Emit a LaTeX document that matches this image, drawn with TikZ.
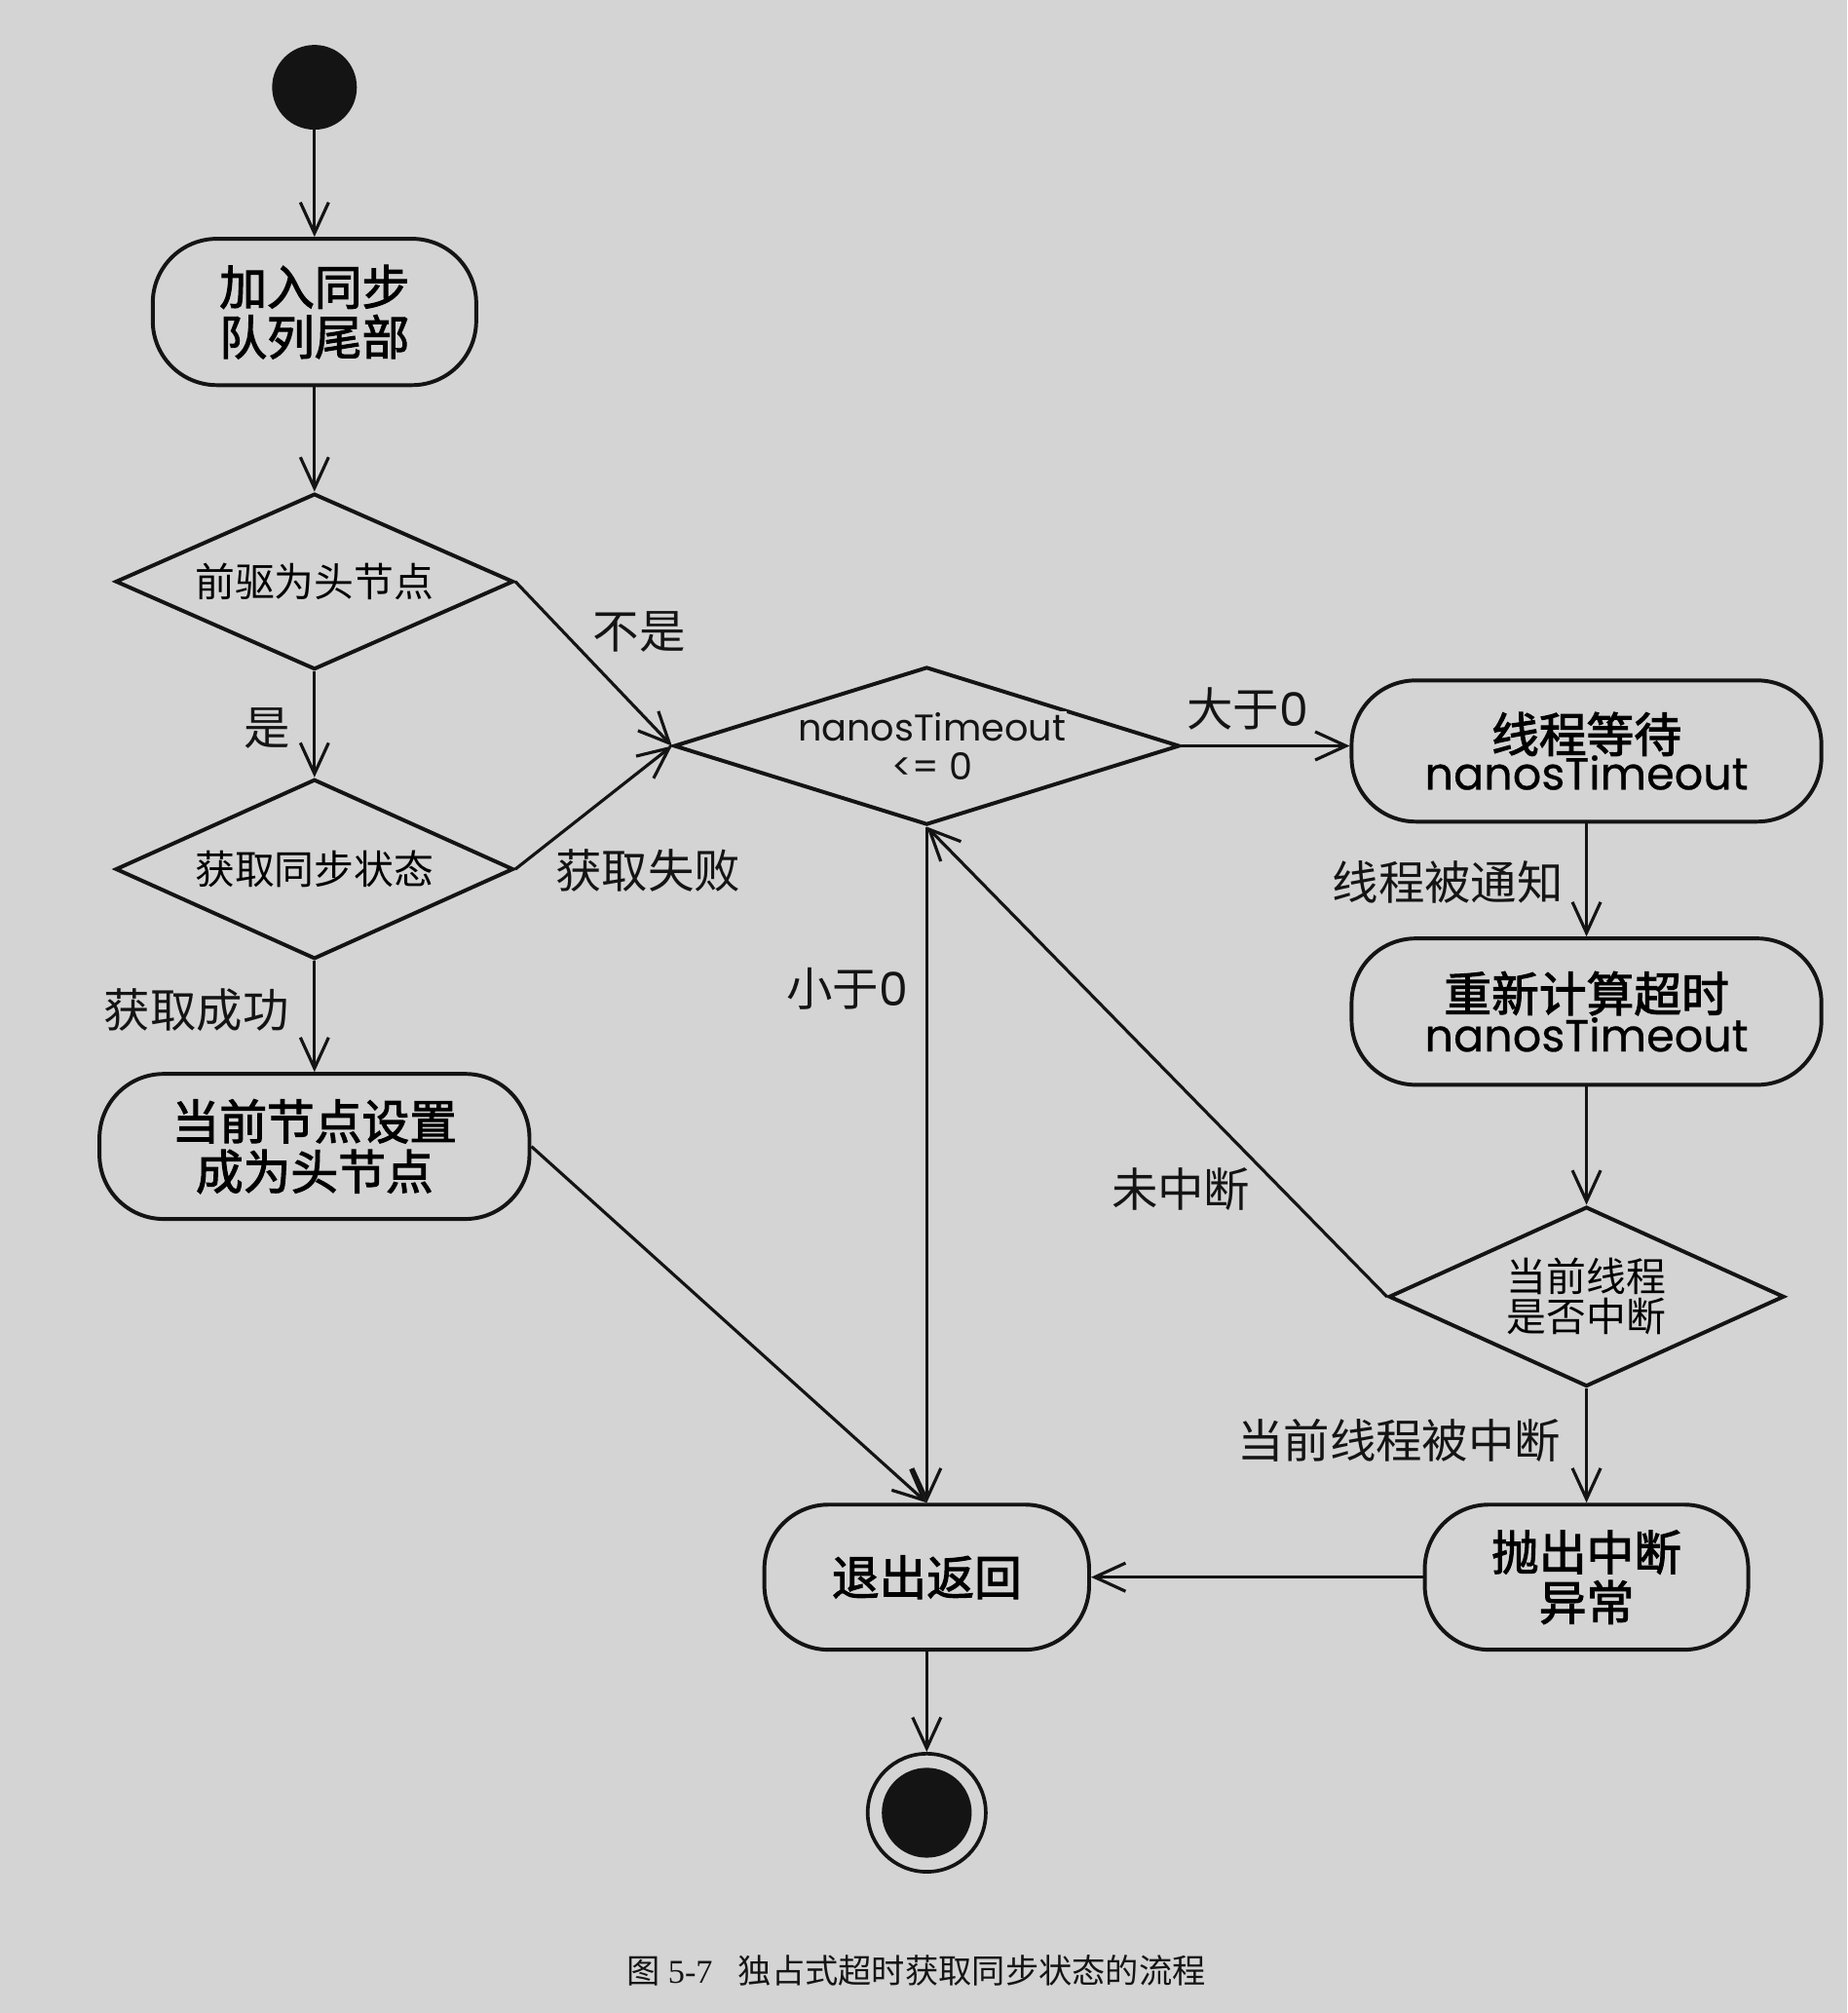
\documentclass[tikz,border=0pt]{standalone}
\usepackage{fontspec}
\setmainfont{Poppins}
\newfontfamily\cjk{Noto Sans CJK SC}
\newfontfamily\cjkm[FakeBold=2.2]{Noto Sans CJK SC}
\newfontfamily\latm[FakeBold=0.6]{Poppins}
\newfontfamily\serifnum{Liberation Serif}
\usetikzlibrary{shapes.geometric,arrows.meta}
\definecolor{bg}{RGB}{212,212,212}
\definecolor{ink}{RGB}{20,20,20}
\begin{document}
\begin{tikzpicture}[x=1pt,y=-1pt,
  draw=ink,
  >={Straight Barb[length=24pt,width=22pt]},
  flow/.style={->,draw=ink,line width=2.4pt},
  act/.style={draw=ink,rectangle,rounded corners=50pt,inner sep=0pt,align=center,
    font=\fontsize{37}{39}\selectfont\cjkm,line width=3pt},
  dec/.style={draw=ink,diamond,aspect=2.25,inner sep=0pt,align=center,
    font=\fontsize{31}{31}\selectfont\cjk,line width=3pt},
  lab/.style={inner sep=0pt,text=ink,font=\fontsize{36}{38}\selectfont\cjk}
]
\fill[bg] (0,0) rectangle (1439,1568);
\useasboundingbox (0,0) rectangle (1439,1568);

% nodes
\node[circle,fill=ink,minimum size=66pt,inner sep=0pt] (start) at (245,68) {};
\node[act,minimum width=252pt,minimum height=114pt] (b1) at (245,243) {加入同步\\队列尾部};
\node[dec,minimum width=310pt,minimum height=137pt] (d1) at (245,453) {前驱为头节点};
\node[dec,minimum width=310pt,minimum height=140pt] (d2) at (245,677) {获取同步状态};
\node[act,minimum width=335pt,minimum height=113pt] (b3) at (245,893) {当前节点设置\\成为头节点};
\node[dec,minimum width=394pt,minimum height=123pt] (d3) at (722,581) {};
\node[inner sep=0.5pt,fill=bg,text=ink,font=\fontsize{29}{31}\selectfont] (d3t) at (726,566) {nanosTimeout};
\node[inner sep=0pt,text=ink,font=\fontsize{29}{31}\selectfont] (d3u) at (726,597) {<= 0};
\node[act,minimum width=366pt,minimum height=110pt] (b4) at (1236,585) {线程等待\\[-10pt]{\fontsize{35}{37}\selectfont\latm nanosTimeout}};
\node[act,minimum width=366pt,minimum height=114pt] (b5) at (1236,788) {重新计算超时\\[-8pt]{\fontsize{35}{37}\selectfont\latm nanosTimeout}};
\node[dec,minimum width=308pt,minimum height=140pt] (d4) at (1236,1010) {当前线程\\是否中断};
\node[act,minimum width=252pt,minimum height=113pt] (b6) at (1236,1228.5) {抛出中断\\异常};
\node[act,minimum width=253pt,minimum height=113pt] (b7) at (722,1228.5) {退出返回};
\node[circle,draw=ink,line width=2.8pt,minimum size=92pt,inner sep=0pt] (end) at (722,1412) {};
\node[circle,fill=ink,minimum size=70pt,inner sep=0pt] (endin) at (end.center) {};

% labels
\node[lab] (l1) at (208,567) {是};
\node[lab] (l2) at (498,492) {不是};
\node[lab] (l3) at (505,678) {获取失败};
\node[lab] (l4) at (153,787) {获取成功};
\node[lab] (l5) at (660,770) {小于{\rmfamily 0}};
\node[lab] (l6) at (972,552) {大于{\rmfamily 0}};
\node[lab] (l7) at (1128,687) {线程被通知};
\node[lab] (l8) at (920,926) {未中断};
\node[lab] (l9) at (1090,1122) {当前线程被中断};

\node[inner sep=0pt,text=ink,font=\fontsize{26}{28}\selectfont\cjk] (cap) at (714,1535)
  {图 {\serifnum 5-7}\hspace{20pt}独占式超时获取同步状态的流程};

% connectors
\draw[flow] (start) -- (b1);
\draw[flow] (b1) -- (d1);
\draw[flow] (d1) -- (d2);
\draw[flow] (d1.east) -- (d3.west);
\draw[flow] (d2.east) -- (d3.west);
\draw[flow] (d2) -- (b3);
\draw[flow] (b3.east) -- (b7.north);
\draw[flow] (d3.south) -- (b7.north);
\draw[flow] (d3.east) -- (d3.east -| b4.west);
\draw[flow] (b4) -- (b5);
\draw[flow] (b5) -- (d4);
\draw[flow] (d4.west) -- (d3.south);
\draw[flow] (d4) -- (b6);
\draw[flow] (b6) -- (b7);
\draw[flow] (b7) -- (end);
\end{tikzpicture}
\end{document}
